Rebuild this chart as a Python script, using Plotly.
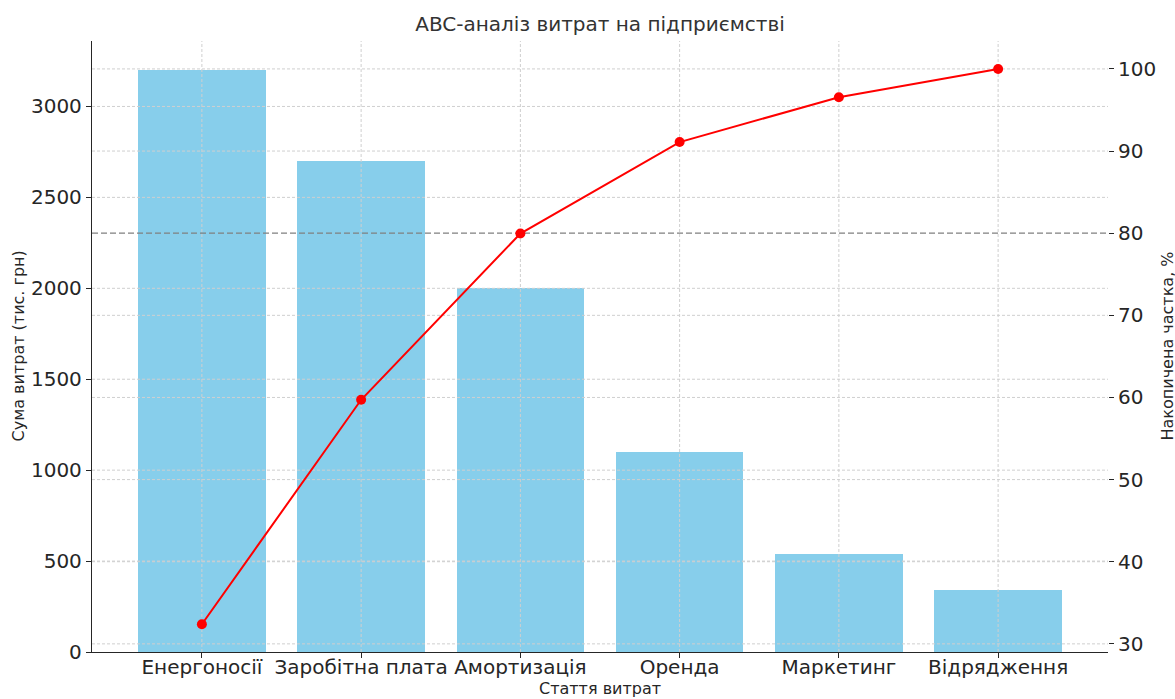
import plotly.graph_objects as go
import numpy as np

categories = ["Енергоносії", "Заробітна плата", "Амортизація", "Оренда", "Маркетинг", "Відрядження"]
costs = [3200, 2700, 2000, 1100, 540, 340]
threshold = 80
y1_ticks = [0, 500, 1000, 1500, 2000, 2500, 3000]
y2_ticks = [30, 40, 50, 60, 70, 80, 90, 100]

cum_pct = list(np.cumsum(costs) / sum(costs) * 100)
xs = list(range(len(categories)))

FONT = "DejaVu Sans"
TXT = "#262626"
GRID = "#cfcfcf"
XR = [-0.69, 5.69]
Y1R = [0, 3360]
Y2R = [29.01, 103.4]

fig = go.Figure()
fig.add_trace(go.Bar(x=xs, y=costs, width=0.8, marker=dict(color="#87CEEB", line=dict(width=0)),
                     yaxis="y", showlegend=False, hoverinfo="skip"))

# grid lines (drawn above bars, below the cumulative line)
gx, gy = [], []
for t in y1_ticks[1:]:
    gx += [XR[0], XR[1], None]
    gy += [t, t, None]
fig.add_trace(go.Scatter(x=gx, y=gy, mode="lines", yaxis="y", showlegend=False, hoverinfo="skip",
                         line=dict(color=GRID, width=1, dash="3px,2px")))
hx, hy = [], []
for t in y2_ticks:
    if t == threshold:
        continue
    hx += [XR[0], XR[1], None]
    hy += [t, t, None]
for x in xs:
    hx += [x, x, None]
    hy += [Y2R[0], Y2R[1], None]
fig.add_trace(go.Scatter(x=hx, y=hy, mode="lines", yaxis="y2", showlegend=False, hoverinfo="skip",
                         line=dict(color=GRID, width=1, dash="3px,2px")))
fig.add_trace(go.Scatter(x=XR, y=[threshold, threshold], mode="lines", yaxis="y2", showlegend=False,
                         hoverinfo="skip", line=dict(color="#808080", width=1.3, dash="6px,3px")))

fig.add_trace(go.Scatter(x=xs, y=cum_pct, mode="lines+markers", yaxis="y2",
                         line=dict(color="#ff0000", width=2),
                         marker=dict(color="#ff0000", size=10, line=dict(width=0)), showlegend=False))

fig.update_layout(
    width=1175, height=699,
    margin=dict(l=92, r=67, t=41, b=47),
    paper_bgcolor="white", plot_bgcolor="white",
    font=dict(family=FONT, color=TXT, size=20),
    title=dict(text="ABC-аналіз витрат на підприємстві", x=0.5, xanchor="center", xref="paper",
               y=1 - 24 / 699, yanchor="middle", font=dict(size=20, color="#333333")),
    xaxis=dict(range=XR, tickmode="array", tickvals=xs, ticktext=categories, automargin=False,
               showgrid=False, zeroline=False, showline=True, linecolor=TXT, linewidth=1.3,
               ticks="outside", ticklen=5, tickcolor=TXT, tickfont=dict(size=20),
               ticklabelstandoff=-8),
    yaxis=dict(range=Y1R, tickmode="array", tickvals=y1_ticks, showgrid=False, automargin=False,
               zeroline=False, showline=True, linecolor=TXT, linewidth=1.3,
               ticks="outside", ticklen=5, tickcolor=TXT, tickfont=dict(size=20)),
    yaxis2=dict(range=Y2R, tickmode="array", tickvals=y2_ticks, overlaying="y", automargin=False,
                side="right", showgrid=False, zeroline=False, showline=False,
                ticks="outside", ticklen=5, tickcolor=TXT, tickfont=dict(size=20)),
    annotations=[
        dict(text="Стаття витрат", xref="paper", yref="paper", x=0.5, y=-36 / 611,
             xanchor="center", yanchor="middle", showarrow=False, font=dict(size=16)),
        dict(text="Сума витрат (тис. грн)", xref="paper", yref="paper", x=-74 / 1016, y=0.5,
             xanchor="center", yanchor="middle", textangle=-90, showarrow=False, font=dict(size=16)),
        dict(text="Накопичена частка, %", xref="paper", yref="paper", x=1 + 59 / 1016, y=0.5,
             xanchor="center", yanchor="middle", textangle=-90, showarrow=False, font=dict(size=16)),
    ],
    bargap=0,
)

fig.write_html("out.html")
